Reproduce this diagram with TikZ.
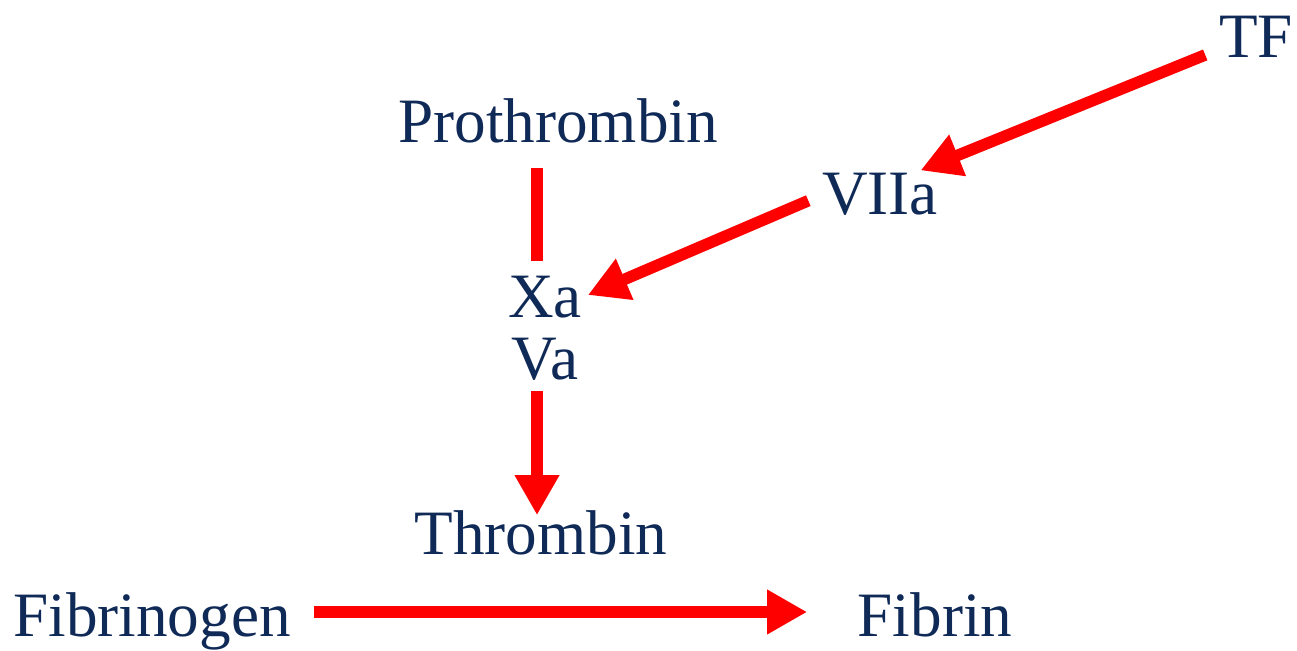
\documentclass[tikz,border=0pt]{standalone}
\usepackage{fontspec}
\setmainfont{Liberation Serif}
\usetikzlibrary{arrows.meta}
\definecolor{navy}{RGB}{16,42,88}

\begin{document}
\begin{tikzpicture}[x=0.5pt,y=-0.5pt,
  every node/.style={text=navy,inner sep=0pt,outer sep=0pt,anchor=base,
    font=\fontsize{31.6}{38}\selectfont},
  link/.style={red,line width=5.8pt},
  head/.style={-{Triangle[length=20pt,width=21pt]}}]
  \useasboundingbox (0,0) rectangle (1297,651);

  \node (tf) at (1256,58) {TF};
  \node (proth) at (558,143) {Prothrombin};
  \node (vii) at (880,215) {VIIa};
  \node (xa) at (545,318) {Xa};
  \node (va) at (545,380) {Va};
  \node (thr) at (541,555) {Thrombin};
  \node (fbg) at (152,637) {Fibrinogen};
  \node (fbn) at (935,637) {Fibrin};

  % the two vertical links run down this line, the last one along this row
  \coordinate (stem) at (537,0);
  \coordinate (flow) at (0,612);

  \draw[link,head,shorten <=7.5pt,shorten >=4.3pt](tf.198)--(vii.33);
  \draw[link,head,shorten <=7.5pt,shorten >=3.3pt](vii.west)--(xa.east);
  \draw[link,shorten <=12pt,shorten >=8pt](proth.south -| stem)--(xa.north -| stem);
  \draw[link,head,shorten <=5pt,shorten >=-2pt](va.south -| stem)--(thr.north -| stem);
  \draw[link,head,shorten <=11.8pt,shorten >=25.3pt](fbg.east |- flow)--(fbn.west |- flow);
\end{tikzpicture}
\end{document}
